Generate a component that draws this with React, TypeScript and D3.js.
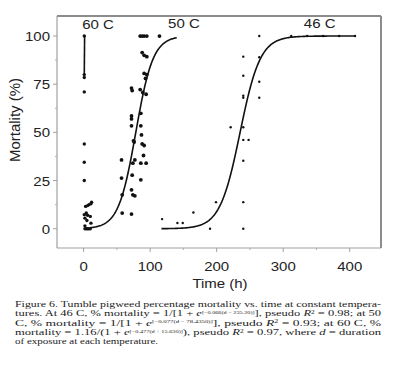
import React from "react";
import * as d3 from "d3";

const xTicks = [0, 100, 200, 300, 400];
const xMinor = [50, 150, 250, 350];
const yTicks = [0, 25, 50, 75, 100];
const yMinor = [12.5, 37.5, 62.5, 87.5];

// 60 C observations [time h, mortality %]
const pts60: [number, number][] = [
  [1, 100], [1, 80], [1, 78.5], [1, 71], [1, 44], [1, 34.5], [1, 25],
  [3, 11.6], [6, 12], [8, 12.5], [11, 13], [12, 13.8],
  [1, 7.3], [4, 8.2], [6, 7], [2, 5.5], [10, 6.4], [5, 4.3], [11, 2.9],
  [2, 0], [4, 0], [6, 0], [8, 0], [10, 0], [2, 1.5],
];
// 50 C observations
const pts50: [number, number][] = [
  [85, 100], [88, 100], [91, 100], [95, 100], [114, 100],
  [88, 91.4], [91, 90], [95, 89.3],
  [91, 80.6], [95, 80], [93, 78],
  [72, 73], [73, 71.7], [85, 72.2], [89, 70.7], [94, 69.8],
  [86, 59.9], [72, 58.5], [72, 57], [72, 53.4], [86, 53.4], [87, 48.7],
  [75, 45.6], [76, 45], [88, 44], [91, 43.2],
  [90, 38], [86, 34], [94, 34], [74, 34], [77, 35.7], [57, 35.7],
  [73, 27.8], [86, 25.4], [57, 26.3], [72, 20.2], [74, 17.6], [77, 17.1],
  [58, 17.6], [58, 8.1], [72, 7.6],
];
// 46 C observations
const pts46: [number, number][] = [
  [118, 5], [141, 3], [149, 3], [165, 8.4], [190, 0], [199, 13.8],
  [221, 52.7], [240, 89.3], [240, 79.4], [240, 69], [240, 68], [240, 52.7],
  [240, 46.1], [248, 46.1], [240, 35.3], [240, 13.8], [240, 0],
  [264, 100], [264, 89], [264, 76.3], [264, 68],
  [312, 100], [336, 100], [360, 100], [384, 100], [408, 100],
];
// 60 C fitted line as drawn
const curve60: [number, number][] = [[1, 80], [1.5, 100]];
// fitted logistic models from the caption
const fit46 = { k: 0.066, mid: 235.2, from: 117, to: 408 };
const fit50 = { k: 0.077, mid: 78.435, from: 10, to: 140 };

const labels = [
  { text: "60 C", t: -2, m: 103.5 },
  { text: "50 C", t: 127, m: 104 },
  { text: "46 C", t: 331, m: 104 },
];

const W = 400, H = 379;
const x = d3.scaleLinear().domain([-40, 447]).range([57, 381]);
const y = d3.scaleLinear().domain([-10, 110.4]).range([248, 16]);

function logistic(f: { k: number; mid: number; from: number; to: number }) {
  const ts = d3.range(f.from, f.to + 0.5, 1);
  return ts.map((t) => [t, 100 / (1 + Math.exp(-f.k * (t - f.mid)))] as [number, number]);
}

const line = d3
  .line<[number, number]>()
  .x((d) => x(d[0]))
  .y((d) => y(d[1]));

const SY = 0.85;
const sans = "'Liberation Sans', Arial, Helvetica, sans-serif";
const serif = "'Liberation Serif', 'Times New Roman', serif";

const SUP = 5.5;
const captionLines: React.ReactNode[] = [
  <>Figure 6. Tumble pigweed percentage mortality vs. time at constant tempera-</>,
  <>
    tures. At 46 C, % mortality = 1/[1 + <tspan fontStyle="italic">e</tspan>
    <tspan fontSize={SUP} dy={-3}>[−0.066(d − 235.20)]</tspan>
    <tspan dy={3}>], pseudo </tspan>
    <tspan fontStyle="italic">R</tspan>
    <tspan fontSize={SUP + 1} dy={-3}>2</tspan>
    <tspan dy={3}> = 0.98; at 50</tspan>
  </>,
  <>
    C, % mortality = 1/[1 + <tspan fontStyle="italic">e</tspan>
    <tspan fontSize={SUP} dy={-3}>[−0.077(d − 78.4350)]</tspan>
    <tspan dy={3}>], pseudo </tspan>
    <tspan fontStyle="italic">R</tspan>
    <tspan fontSize={SUP + 1} dy={-3}>2</tspan>
    <tspan dy={3}> = 0.93; at 60 C, %</tspan>
  </>,
  <>
    mortality = 1.16/(1 + <tspan fontStyle="italic">e</tspan>
    <tspan fontSize={SUP} dy={-3}>[−0.477(d + 15.630)]</tspan>
    <tspan dy={3}>), pseudo </tspan>
    <tspan fontStyle="italic">R</tspan>
    <tspan fontSize={SUP + 1} dy={-3}>2</tspan>
    <tspan dy={3}> = 0.97, where </tspan>
    <tspan fontStyle="italic">d</tspan> = duration
  </>,
  <>of exposure at each temperature.</>,
];

export default function App() {
  const axisColor = "#8c8c8c";
  return (
    <svg
      width={W}
      height={H}
      viewBox={`0 0 ${W} ${H}`}
      style={{ position: "absolute", left: 0, top: 0, background: "#fff" }}
    >
      <rect x={0} y={0} width={W} height={H} fill="#fff" />
      {/* frame */}
      <line x1={57} x2={381} y1={16} y2={16} stroke={axisColor} strokeWidth={2} />
      <line x1={381} x2={381} y1={16} y2={248} stroke={axisColor} strokeWidth={2} />
      <line x1={57} x2={57} y1={16} y2={248} stroke="#a0a0a0" strokeWidth={1.2} />
      <line x1={57} x2={381} y1={248} y2={248} stroke="#a0a0a0" strokeWidth={1.2} />
      {/* y ticks */}
      {yTicks.map((v) => (
        <g key={"yt" + v}>
          <line x1={53} x2={57} y1={y(v)} y2={y(v)} stroke="#a0a0a0" strokeWidth={1} />
          <text
            transform={`translate(50,${y(v) + 5}) scale(1,${SY})`}
            textAnchor="end"
            fontFamily={sans}
            fontSize={15}
            fill="#222"
          >
            {v}
          </text>
        </g>
      ))}
      {yMinor.map((v) => (
        <line key={"ym" + v} x1={55} x2={57} y1={y(v)} y2={y(v)} stroke="#b0b0b0" strokeWidth={1} />
      ))}
      {/* x ticks */}
      {xTicks.map((v) => (
        <g key={"xt" + v}>
          <line x1={x(v)} x2={x(v)} y1={248} y2={252} stroke="#a0a0a0" strokeWidth={1} />
          <text
            transform={`translate(${x(v)},271) scale(1,${SY})`}
            textAnchor="middle"
            fontFamily={sans}
            fontSize={15}
            fill="#222"
          >
            {v}
          </text>
        </g>
      ))}
      {xMinor.map((v) => (
        <line key={"xm" + v} x1={x(v)} x2={x(v)} y1={248} y2={250} stroke="#b0b0b0" strokeWidth={1} />
      ))}
      {/* axis titles */}
      <text
        transform={`translate(220,288) scale(1,${SY})`}
        textAnchor="middle"
        fontFamily={sans}
        fontSize={15}
        fill="#222"
      >
        Time (h)
      </text>
      <text
        transform={`translate(20,120) rotate(-90)`}
        textAnchor="middle"
        fontFamily={sans}
        fontSize={15}
        fill="#222"
      >
        Mortality (%)
      </text>
      {/* curves */}
      <path d={line(logistic(fit46)) || ""} fill="none" stroke="#111" strokeWidth={1.6} />
      <path d={line(logistic(fit50)) || ""} fill="none" stroke="#111" strokeWidth={1.6} />
      <path d={line(curve60) || ""} fill="none" stroke="#111" strokeWidth={1.6} />
      {/* points */}
      {pts60.map((d, i) => (
        <circle key={"a" + i} cx={x(d[0])} cy={y(d[1])} r={1.7} fill="#111" />
      ))}
      {pts50.map((d, i) => (
        <circle key={"b" + i} cx={x(d[0])} cy={y(d[1])} r={1.9} fill="#111" />
      ))}
      {pts46.map((d, i) => (
        <circle key={"c" + i} cx={x(d[0])} cy={y(d[1])} r={1.2} fill="#111" />
      ))}
      {/* series labels */}
      {labels.map((l) => (
        <text
          key={l.text}
          transform={`translate(${x(l.t)},${y(l.m)}) scale(1,${SY})`}
          fontFamily={sans}
          fontSize={15}
          fill="#222"
        >
          {l.text}
        </text>
      ))}
      {/* caption */}
      {captionLines.map((c, i) => (
        <text
          key={"cap" + i}
          transform={`translate(15,${307 + i * 9.3}) scale(1,0.8)`}
          fontFamily={serif}
          fontSize={11}
          fill="#222"
          textLength={i < 4 ? 366 : undefined}
          lengthAdjust="spacingAndGlyphs"
        >
          {c}
        </text>
      ))}
    </svg>
  );
}
